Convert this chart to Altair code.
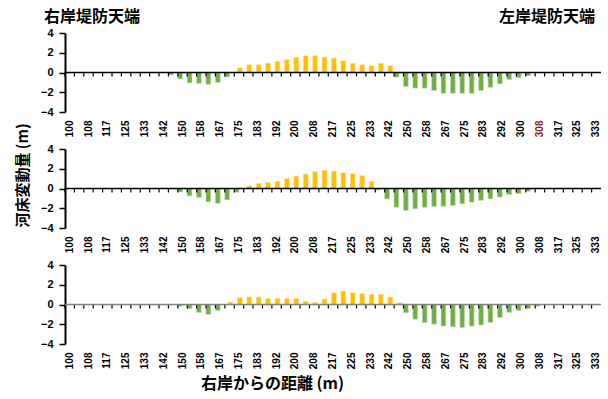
import altair as alt
import pandas as pd

# Cross-section stations (m from the right bank), one per bar slot
distance = [
    "100", "104", "108", "113", "117", "121", "125", "129", "133", "138",
    "142", "146", "150", "154", "158", "163", "167", "171", "175", "179",
    "183", "188", "192", "196", "200", "204", "208", "213", "217", "221",
    "225", "229", "233", "238", "242", "246", "250", "254", "258", "263",
    "267", "271", "275", "279", "283", "288", "292", "296", "300", "304",
    "308", "313", "317", "321", "325", "329", "333",
]
# Every second station is labelled
tick_labels = [
    "100", "108", "117", "125", "133", "142", "150", "158", "167", "175",
    "183", "192", "200", "208", "217", "225", "233", "242", "250", "258",
    "267", "275", "283", "292", "300", "308", "317", "325", "333",
]

# Bed level change (m) at each station, upper / middle / lower section
bed_change_a = [
    0, 0, 0, 0, 0, 0, 0, 0, 0, 0, 0,
    -0.25, -0.65, -1.05, -1.1, -1.2, -1.0, -0.45,
    0.48, 0.78, 0.78, 0.95, 1.12, 1.3, 1.56, 1.7, 1.7, 1.56, 1.46, 1.2,
    0.93, 0.78, 0.68, 0.93, 0.68,
    -0.47, -1.42, -1.58, -1.58, -1.83, -2.1, -2.1, -2.1, -2.1, -1.83,
    -1.5, -1.15, -0.72, -0.52, -0.34, -0.05,
    0, 0, 0, 0, 0, 0,
]
bed_change_b = [
    0, 0, 0, 0, 0, 0, 0, 0, 0, 0, 0, 0,
    -0.35, -0.75, -0.9, -1.35, -1.5, -1.15, -0.38,
    0.27, 0.52, 0.61, 0.71, 1.01, 1.25, 1.45, 1.7, 1.83, 1.76, 1.6, 1.5,
    1.3, 0.72,
    -0.15, -1.05, -1.9, -2.22, -2.05, -1.9, -1.82, -1.8, -1.72, -1.55,
    -1.38, -1.2, -1.05, -0.88, -0.6, -0.52, -0.27,
    0, 0, 0, 0, 0, 0, 0,
]
bed_change_c = [
    0, 0, 0, 0, 0, 0, 0, 0, 0, 0, 0, 0,
    -0.17, -0.42, -0.8, -1.0, -0.6,
    0.25, 0.68, 0.76, 0.76, 0.6, 0.6, 0.6, 0.6, 0.32, 0.22, 0.55, 1.18,
    1.35, 1.18, 1.1, 1.01, 1.01, 0.76, 0.17,
    -0.84, -1.49, -1.82, -1.99, -2.18, -2.26, -2.33, -2.18, -2.08, -1.82,
    -1.32, -0.8, -0.62, -0.42, -0.17,
    0, 0, 0, 0, 0, 0,
]

bank_labels = ["右岸堤防天端", "左岸堤防天端"]
y_title = "河床変動量 (m)"
x_title = "右岸からの距離 (m)"

YELLOW = "#FFC000"
GREEN = "#70AD47"
W, H = 536, 79
STEP = W / len(distance)
NUM_FONT = "Liberation Sans"
JP_FONT = "Noto Sans CJK JP"

x_scale = alt.Scale(domain=distance, paddingInner=0, paddingOuter=0)
y_scale = alt.Scale(domain=[-4, 4], nice=False)


def panel(values, zero_color="black", label_color=None, y_axis_title=None,
          x_axis_title=None, bank_text=False):
    df = pd.DataFrame({"d": distance, "v": values})

    x_axis_kw = dict(
        values=tick_labels, labelAngle=-90, ticks=False, domain=False,
        labelPadding=8, labelFont=NUM_FONT, labelFontSize=10,
        labelFontWeight="bold", labelOverlap=False, title=x_axis_title,
    )
    if label_color is not None:
        x_axis_kw["labelColor"] = label_color
    if x_axis_title is not None:
        x_axis_kw.update(titleFont=JP_FONT, titleFontSize=16,
                         titleFontWeight="bold", titleX=207, titlePadding=7)
    x_enc = alt.X("d:N", sort=distance, scale=x_scale,
                  axis=alt.Axis(**x_axis_kw))

    y_axis_kw = dict(
        values=[-4, -2, 0, 2, 4], tickSize=6, tickWidth=1.5, tickColor="black",
        domainWidth=2, domainColor="black", labelFont=NUM_FONT,
        labelFontSize=11, labelFontWeight="bold", labelPadding=6,
        labelColor="black", labelOverlap=False, labelFlush=False,
        grid=False, title=y_axis_title,
    )
    if y_axis_title is not None:
        y_axis_kw.update(titleFont=JP_FONT, titleFontSize=15,
                         titleFontWeight="bold", titleY=26, titlePadding=10)
    y_axis = alt.Axis(**y_axis_kw)
    y_enc = alt.Y("v:Q", scale=y_scale, axis=y_axis)
    y_zero = alt.datum(0, scale=y_scale, axis=y_axis)

    base = alt.Chart(df)
    rise = base.transform_filter("datum.v > 0").mark_bar(
        color=YELLOW, size=4.8, xOffset=0.9,
        stroke="#FFE08A", strokeWidth=0.8, strokeOpacity=0.8,
    ).encode(x=x_enc, y=y_enc)
    fall = base.transform_filter("datum.v < 0").mark_bar(
        color=GREEN, size=4.8, xOffset=-2.4,
        stroke="#C5E0B4", strokeWidth=0.8, strokeOpacity=0.8,
    ).encode(x=x_enc, y=y_enc)

    zero_line = alt.Chart(pd.DataFrame({"z": [0]})).mark_rule(
        color=zero_color, strokeWidth=1.5
    ).encode(y=y_zero)
    zero_ticks = base.mark_rule(
        color="black", strokeWidth=1.2, xOffset=-STEP / 2, y2Offset=4
    ).encode(x=x_enc, y=y_zero, y2=alt.datum(0))

    layers = [rise, fall, zero_ticks, zero_line]
    if bank_text:
        left = alt.Chart(pd.DataFrame({"t": [bank_labels[0]]})).mark_text(
            align="left", baseline="middle", font=JP_FONT, fontSize=16,
            fontWeight="bold", color="black",
        ).encode(text="t:N", x=alt.value(-21), y=alt.value(-16))
        right = alt.Chart(pd.DataFrame({"t": [bank_labels[1]]})).mark_text(
            align="right", baseline="middle", font=JP_FONT, fontSize=16,
            fontWeight="bold", color="black",
        ).encode(text="t:N", x=alt.value(530), y=alt.value(-16))
        layers += [left, right]
    return alt.layer(*layers).properties(width=W, height=H)


p1 = panel(
    bed_change_a, bank_text=True,
    label_color=alt.condition("datum.label == '308'", alt.value("#8B1A1A"),
                              alt.value("black")),
)
p2 = panel(bed_change_b, y_axis_title=y_title)
p3 = panel(bed_change_c, zero_color="#808080", x_axis_title=x_title)

# Plot frames are spaced on their own; axis text hangs in the gaps
chart = alt.vconcat(p1, p2, p3, spacing=37, bounds="flush").properties(
    padding={"left": 15, "top": 9, "right": 5, "bottom": 2}
).configure_view(stroke=None)

chart.save("out.html", embed_options={"renderer": "svg", "actions": False})
